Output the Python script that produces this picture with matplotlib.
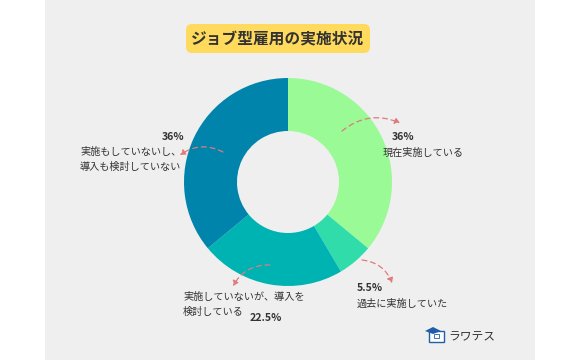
import matplotlib
matplotlib.use("Agg")
import matplotlib.pyplot as plt
from matplotlib.patches import FancyBboxPatch, FancyArrowPatch, Rectangle, Polygon

plt.rcParams['font.family'] = ['Noto Sans CJK JP', 'DejaVu Sans']

title = "ジョブ型雇用の実施状況"
categories = ["現在実施している", "過去に実施していた", "実施していないが、導入を\n検討している", "実施もしていないし、\n導入も検討していない"]
values = [36, 5.5, 22.5, 36]
pct_labels = ["36%", "5.5%", "22.5%", "36%"]
colors = ["#9AFA96", "#30DCAA", "#00B3B3", "#0084AB"]

W, H = 580, 360
fig = plt.figure(figsize=(5.8, 3.6), dpi=100)
fig.patch.set_facecolor("white")
ax = fig.add_axes([0, 0, 1, 1])

def Y(p):
    return H - p

ax.pie(values, colors=colors, startangle=90, counterclock=False,
       center=(288, Y(182)), radius=104,
       wedgeprops=dict(width=53, linewidth=0), frame=False)
ax.set_xlim(0, W)
ax.set_ylim(0, H)
ax.set_aspect('auto')
ax.axis('off')

# grey panel
ax.add_patch(Rectangle((45, 0), 490, H, facecolor="#EFEFEF", edgecolor="none", zorder=-10))

# title box
ax.add_patch(FancyBboxPatch((186, Y(53)), 184, 29, boxstyle="round,pad=0,rounding_size=6",
                            facecolor="#FFDA5C", edgecolor="none", zorder=2))
ax.text(278, Y(39), title, ha="center", va="center", fontsize=11.3, fontweight="bold",
        color="#333333", zorder=3)

tc = "#333333"
fs = 7.3
pfs = 7.6

def lines(x, y0, txt, step=14.5):
    for i, ln in enumerate(txt.split("\n")):
        ax.text(x, Y(y0 + i * step), ln, ha="left", va="center", fontsize=fs, color=tc)

# right top label
ax.text(403, Y(137), pct_labels[0], ha="center", va="center", fontsize=pfs, color=tc, fontweight="bold")
lines(383, 153, categories[0])
# left label
ax.text(184, Y(137), pct_labels[3], ha="right", va="center", fontsize=pfs, color=tc, fontweight="bold")
lines(80, 152, categories[3])
# bottom label
lines(183, 297, categories[2])
ax.text(250, Y(318), pct_labels[2], ha="left", va="center", fontsize=pfs, color=tc, fontweight="bold")
# 5.5 label
ax.text(357, Y(288), pct_labels[1], ha="left", va="center", fontsize=pfs, color=tc, fontweight="bold")
lines(357, 304, categories[1])

ac = "#E07B7B"
def arrow(p1, p2, rad):
    a = FancyArrowPatch((p1[0], Y(p1[1])), (p2[0], Y(p2[1])),
                        connectionstyle=f"arc3,rad={rad}", arrowstyle="-|>,head_length=3,head_width=1.8",
                        linestyle=(0, (4, 3)), linewidth=0.9, color=ac, zorder=4, shrinkA=0, shrinkB=0)
    ax.add_patch(a)

arrow((342, 131), (400, 123), -0.3)
arrow((223, 152), (180, 155), 0.3)
arrow((270, 265), (233, 286), 0.3)
arrow((362, 260), (392, 283), -0.3)

# logo
ax.add_patch(Rectangle((429, Y(342)), 15, 11, facecolor="white", edgecolor="#1F5FA8", linewidth=1.0, zorder=3))
ax.add_patch(Rectangle((434, Y(338)), 5, 4, facecolor="none", edgecolor="#1F5FA8", linewidth=0.6, zorder=4))
ax.add_patch(Polygon([(425, Y(331)), (433, Y(327)), (441, Y(331)), (433, Y(334))], closed=True,
                     facecolor="#1F5FA8", edgecolor="none", zorder=5))
ax.text(448, Y(337), "ラワテス", ha="left", va="center", fontsize=8.5, color="#333333")

fig.savefig("out.png", dpi=100, facecolor=fig.get_facecolor())
